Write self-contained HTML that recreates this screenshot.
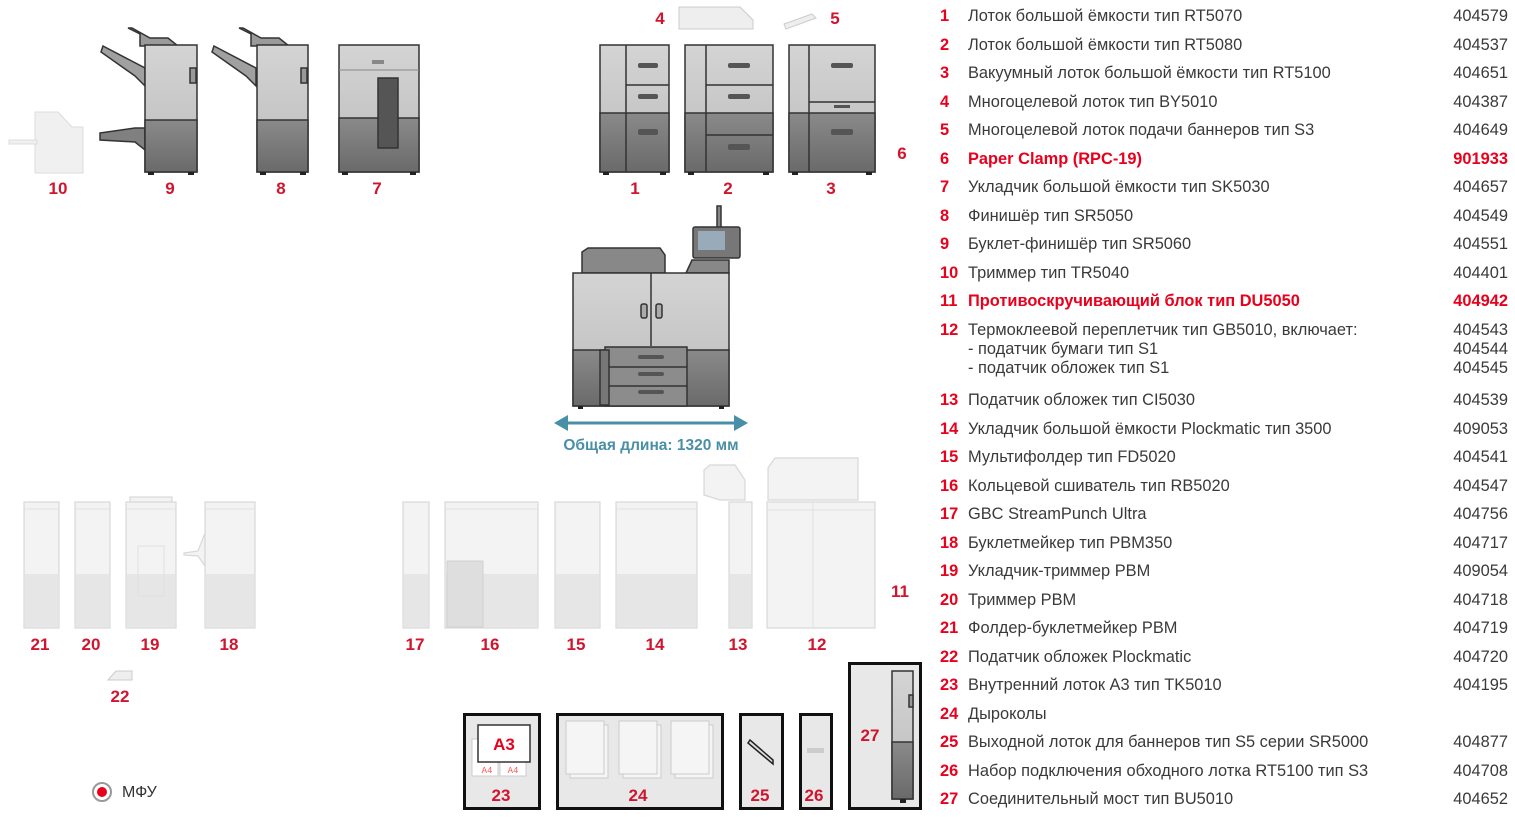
<!DOCTYPE html>
<html><head><meta charset="utf-8">
<style>
html,body{margin:0;padding:0;background:#fff;width:1515px;height:817px;overflow:hidden}
svg{position:absolute;left:0;top:0}
.lbl{font-family:"Liberation Sans",Arial,sans-serif;font-weight:bold;font-size:17px;fill:#d0152e;text-anchor:middle}
.t{font-family:"Liberation Sans",Arial,sans-serif;font-size:16.4px;fill:#3a3a3a}
.n{font-family:"Liberation Sans",Arial,sans-serif;font-size:16.4px;font-weight:bold;fill:#e8001c}
.c{font-family:"Liberation Sans",Arial,sans-serif;font-size:16.4px;fill:#3a3a3a;text-anchor:end}
.r{fill:#e8001c;font-weight:bold}
</style></head><body>
<svg width="1515" height="817" viewBox="0 0 1515 817">
<defs>
<linearGradient id="dk" x1="0" y1="0" x2="0" y2="1"><stop offset="0" stop-color="#8a8a8a"/><stop offset="1" stop-color="#6a6a6a"/></linearGradient>
<linearGradient id="lt" x1="0" y1="0" x2="0" y2="1"><stop offset="0" stop-color="#d4d4d4"/><stop offset="1" stop-color="#bcbcbc"/></linearGradient>
</defs>

<g fill="#f0f0f0" stroke="#dcdcdc">
<path d="M35 112 H58 L72 127 H83 V173 H35 Z"/>
<rect x="9" y="140" width="28" height="4"/>
</g>

<g stroke="#333" stroke-width="1.5">
<path d="M128 28 L140 34 L140 46 L178 46 L168 38 L150 38 L132 28 Z" fill="#9a9a9a"/>
<path d="M103 46 L145 68 L145 86 L135 76 L101 52 Z" fill="#a0a0a0"/>
<path d="M100 133 L135 128 L145 128 L145 150 L135 142 L100 140 Z" fill="#808080"/>
<rect x="145" y="45" width="52" height="127" fill="url(#lt)"/>
<rect x="145" y="120" width="52" height="52" fill="url(#dk)"/>
<rect x="190" y="68" width="6" height="15" fill="#999"/>
</g>
<rect x="148" y="172" width="6" height="3" fill="#222"/><rect x="188" y="172" width="6" height="3" fill="#222"/>

<g stroke="#333" stroke-width="1.5">
<path d="M239 28 L251 34 L251 46 L289 46 L279 38 L261 38 L243 28 Z" fill="#9a9a9a"/>
<path d="M214 46 L256 68 L256 86 L246 76 L212 52 Z" fill="#a0a0a0"/>
<rect x="257" y="45" width="51" height="127" fill="url(#lt)"/>
<rect x="257" y="120" width="51" height="52" fill="url(#dk)"/>
<rect x="301" y="68" width="6" height="15" fill="#999"/>
</g>
<rect x="260" y="172" width="6" height="3" fill="#222"/><rect x="300" y="172" width="6" height="3" fill="#222"/>

<g stroke="#333" stroke-width="1.5">
<rect x="339" y="45" width="80" height="127" fill="url(#lt)"/>
<rect x="339" y="118" width="80" height="54" fill="url(#dk)"/>
<rect x="378" y="78" width="20" height="70" fill="#555"/>
</g>
<line x1="339" y1="70" x2="419" y2="70" stroke="#888"/>
<rect x="372" y="60" width="12" height="4" fill="#888"/>
<rect x="342" y="172" width="6" height="3" fill="#222"/><rect x="410" y="172" width="6" height="3" fill="#222"/>

<path d="M679 7 H740 L753 20 V29 H679 Z" fill="#eee" stroke="#ccc"/>
<path d="M784 24 L812 14 L816 18 L786 29 Z" fill="#eee" stroke="#ccc"/>

<g stroke="#333" stroke-width="1.5">
<rect x="600" y="45" width="69" height="127" fill="url(#lt)"/>
<rect x="600" y="113" width="69" height="59" fill="url(#dk)"/>
<line x1="626" y1="45" x2="626" y2="172"/>
<line x1="626" y1="85" x2="669" y2="85"/>
</g>
<g fill="#555"><rect x="638" y="63" width="20" height="5" rx="2"/><rect x="638" y="94" width="20" height="5" rx="2"/><rect x="638" y="129" width="20" height="6" rx="2"/></g>
<rect x="603" y="172" width="6" height="3" fill="#222"/><rect x="660" y="172" width="6" height="3" fill="#222"/>
<g stroke="#333" stroke-width="1.5">
<rect x="685" y="45" width="88" height="127" fill="url(#lt)"/>
<rect x="685" y="113" width="88" height="59" fill="url(#dk)"/>
<line x1="706" y1="45" x2="706" y2="172"/>
<line x1="706" y1="85" x2="773" y2="85"/>
<line x1="706" y1="135" x2="773" y2="135"/>
</g>
<g fill="#555"><rect x="728" y="63" width="22" height="5" rx="2"/><rect x="728" y="94" width="22" height="5" rx="2"/><rect x="728" y="144" width="22" height="6" rx="2"/></g>
<rect x="688" y="172" width="6" height="3" fill="#222"/><rect x="763" y="172" width="6" height="3" fill="#222"/>
<g stroke="#333" stroke-width="1.5">
<rect x="789" y="45" width="86" height="127" fill="url(#lt)"/>
<rect x="789" y="113" width="86" height="59" fill="url(#dk)"/>
<line x1="809" y1="45" x2="809" y2="172"/>
<line x1="809" y1="102" x2="875" y2="102"/>
</g>
<g fill="#555"><rect x="831" y="63" width="22" height="5" rx="2"/><rect x="834" y="105" width="16" height="3"/><rect x="831" y="129" width="22" height="6" rx="2"/></g>
<rect x="792" y="172" width="6" height="3" fill="#222"/><rect x="866" y="172" width="6" height="3" fill="#222"/>

<g stroke="#333" stroke-width="1.5">
<rect x="717" y="206" width="4" height="22" fill="#888"/>
<rect x="693" y="227" width="47" height="31" rx="2" fill="#777"/>
<rect x="698" y="231" width="27" height="19" fill="#9ab" stroke="none"/>
<path d="M686 273 L692 260 H729 V273 Z" fill="#888"/>
<path d="M582 273 V252 L588 248 H660 L665 255 V273 Z" fill="#888"/>
<rect x="573" y="273" width="156" height="133" fill="url(#lt)"/>
<rect x="573" y="350" width="156" height="56" fill="url(#dk)"/>
<line x1="651" y1="273" x2="651" y2="346"/>
<rect x="605" y="347" width="82" height="59" fill="#8c8c8c"/>
<line x1="605" y1="367" x2="687" y2="367"/><line x1="605" y1="386" x2="687" y2="386"/>
<rect x="600" y="350" width="9" height="55" fill="#777"/>
<rect x="641" y="304" width="6" height="14" rx="2" fill="#aaa"/><rect x="656" y="304" width="6" height="14" rx="2" fill="#aaa"/>
</g>
<g fill="#555"><rect x="638" y="355" width="26" height="4" rx="2"/><rect x="638" y="372" width="26" height="4" rx="2"/><rect x="638" y="390" width="26" height="4" rx="2"/></g>
<rect x="578" y="406" width="5" height="3" fill="#222"/><rect x="719" y="406" width="5" height="3" fill="#222"/>
<line x1="565" y1="423" x2="737" y2="423" stroke="#4a8fa8" stroke-width="3"/>
<path d="M554 423 L568 415 V431 Z M748 423 L734 415 V431 Z" fill="#4a8fa8"/>
<text x="651" y="450" font-family="Liberation Sans,Arial,sans-serif" font-weight="bold" font-size="15.5" fill="#4a8fa8" text-anchor="middle">Общая длина: 1320 мм</text>

<g fill="#f3f3f3" stroke="#d8d8d8" stroke-width="1.2">
<rect x="24" y="502" width="35" height="126"/><rect x="75" y="502" width="35" height="126"/>
<rect x="130" y="497" width="42" height="6"/><rect x="126" y="502" width="50" height="126"/>
<path d="M184 553 L198 551 L205 533 V566 L198 556 L184 555 Z"/>
<rect x="205" y="502" width="50" height="126"/>
<rect x="403" y="502" width="26" height="126"/><rect x="445" y="502" width="93" height="126"/>
<rect x="555" y="502" width="45" height="126"/><rect x="616" y="502" width="81" height="126"/>
<path d="M704 470 L710 465 H735 L745 480 V500 H720 L704 495 Z"/>
<rect x="729" y="502" width="23" height="126"/>
<path d="M768 468 L775 458 H858 V500 H768 Z"/>
<rect x="767" y="502" width="108" height="126"/>
</g>
<g fill="#e6e6e6">
<rect x="25" y="574" width="33" height="53"/><rect x="76" y="574" width="33" height="53"/><rect x="127" y="574" width="48" height="53"/><rect x="206" y="574" width="48" height="53"/>
<rect x="404" y="574" width="24" height="53"/><rect x="446" y="574" width="91" height="53"/><rect x="556" y="574" width="43" height="53"/><rect x="617" y="574" width="79" height="53"/><rect x="730" y="574" width="21" height="53"/>
</g>
<rect x="447" y="561" width="36" height="66" fill="#dedede" stroke="#d0d0d0"/>
<g stroke="#e0e0e0" fill="none"><line x1="24" y1="509" x2="59" y2="509"/><line x1="75" y1="509" x2="110" y2="509"/><line x1="126" y1="509" x2="176" y2="509"/><line x1="205" y1="509" x2="255" y2="509"/><line x1="445" y1="509" x2="538" y2="509"/><line x1="616" y1="509" x2="697" y2="509"/><line x1="767" y1="510" x2="875" y2="510"/><line x1="813" y1="502" x2="813" y2="628"/><rect x="138" y="546" width="26" height="50"/></g>
<path d="M108 680 L116 671 H132 V680 Z" fill="#eee" stroke="#ccc"/>

<g fill="#e8e8e8" stroke="#111" stroke-width="3">
<rect x="464.5" y="714.5" width="75" height="94"/>
<rect x="557.5" y="714.5" width="165" height="94"/>
<rect x="740.5" y="714.5" width="42" height="94"/>
<rect x="800.5" y="714.5" width="31" height="94"/>
<rect x="849.5" y="663.5" width="71" height="145"/>
</g>
<rect x="472" y="739" width="26" height="37" fill="#fff" stroke="#ccc"/><rect x="500" y="739" width="26" height="37" fill="#fff" stroke="#ccc"/>
<text x="487" y="773" font-family="Liberation Mono,monospace" font-size="9" fill="#f55" text-anchor="middle">A4</text>
<text x="513" y="773" font-family="Liberation Mono,monospace" font-size="9" fill="#f55" text-anchor="middle">A4</text>
<rect x="478" y="725" width="52" height="37" fill="#fff" stroke="#333" stroke-width="1.5"/>
<text x="504" y="750" font-family="Liberation Sans,Arial,sans-serif" font-weight="bold" font-size="17" fill="#e8001c" text-anchor="middle">A3</text>
<g fill="#f5f5f5" stroke="#ccc">
<rect x="570" y="725" width="38" height="53"/><rect x="566" y="721" width="38" height="53"/>
<rect x="623" y="725" width="38" height="53"/><rect x="619" y="721" width="38" height="53"/>
<rect x="675" y="725" width="38" height="53"/><rect x="671" y="721" width="38" height="53"/>
</g>
<path d="M748 743 L750 740 L773 760 L773 764 Z" fill="#ddd" stroke="#222" stroke-width="1.5"/>
<rect x="807" y="748" width="17" height="5" fill="#ccc"/>
<g stroke="#333" stroke-width="1.5"><rect x="892" y="671" width="21" height="128" fill="url(#lt)"/><rect x="892" y="742" width="21" height="57" fill="url(#dk)"/><rect x="909" y="695" width="4" height="12" fill="#999"/></g>
<rect x="900" y="799" width="6" height="4" fill="#222"/>

<circle cx="102" cy="792" r="9" fill="#fff" stroke="#999" stroke-width="2"/>
<circle cx="102" cy="792" r="5" fill="#e8001c"/>
<text x="122" y="797" font-family="Liberation Sans,Arial,sans-serif" font-size="16" fill="#333">МФУ</text>

<text class="lbl" x="58" y="194">10</text><text class="lbl" x="170" y="194">9</text><text class="lbl" x="281" y="194">8</text><text class="lbl" x="377" y="194">7</text>
<text class="lbl" x="635" y="194">1</text><text class="lbl" x="728" y="194">2</text><text class="lbl" x="831" y="194">3</text>
<text class="lbl" x="660" y="24">4</text><text class="lbl" x="835" y="24">5</text><text class="lbl" x="902" y="159">6</text>
<text class="lbl" x="900" y="597">11</text>
<text class="lbl" x="40" y="650">21</text><text class="lbl" x="91" y="650">20</text><text class="lbl" x="150" y="650">19</text><text class="lbl" x="229" y="650">18</text>
<text class="lbl" x="415" y="650">17</text><text class="lbl" x="490" y="650">16</text><text class="lbl" x="576" y="650">15</text><text class="lbl" x="655" y="650">14</text><text class="lbl" x="738" y="650">13</text><text class="lbl" x="817" y="650">12</text>
<text class="lbl" x="120" y="702">22</text>
<text class="lbl" x="501" y="801">23</text><text class="lbl" x="638" y="801">24</text><text class="lbl" x="760" y="801">25</text><text class="lbl" x="814" y="801">26</text><text class="lbl" x="870" y="741">27</text>

<g>
<text class="n" x="940" y="21">1</text><text class="t" x="968" y="21">Лоток большой ёмкости тип RT5070</text><text class="c" x="1508" y="21">404579</text>
<text class="n" x="940" y="50">2</text><text class="t" x="968" y="50">Лоток большой ёмкости тип RT5080</text><text class="c" x="1508" y="50">404537</text>
<text class="n" x="940" y="78">3</text><text class="t" x="968" y="78">Вакуумный лоток большой ёмкости тип RT5100</text><text class="c" x="1508" y="78">404651</text>
<text class="n" x="940" y="107">4</text><text class="t" x="968" y="107">Многоцелевой лоток тип BY5010</text><text class="c" x="1508" y="107">404387</text>
<text class="n" x="940" y="135">5</text><text class="t" x="968" y="135">Многоцелевой лоток подачи баннеров тип S3</text><text class="c" x="1508" y="135">404649</text>
<text class="n" x="940" y="164">6</text><text class="t r" x="968" y="164">Paper Clamp (RPC-19)</text><text class="c r" x="1508" y="164">901933</text>
<text class="n" x="940" y="192">7</text><text class="t" x="968" y="192">Укладчик большой ёмкости тип SK5030</text><text class="c" x="1508" y="192">404657</text>
<text class="n" x="940" y="221">8</text><text class="t" x="968" y="221">Финишёр тип SR5050</text><text class="c" x="1508" y="221">404549</text>
<text class="n" x="940" y="249">9</text><text class="t" x="968" y="249">Буклет-финишёр тип SR5060</text><text class="c" x="1508" y="249">404551</text>
<text class="n" x="940" y="278">10</text><text class="t" x="968" y="278">Триммер тип TR5040</text><text class="c" x="1508" y="278">404401</text>
<text class="n" x="940" y="306">11</text><text class="t r" x="968" y="306">Противоскручивающий блок тип DU5050</text><text class="c r" x="1508" y="306">404942</text>
<text class="n" x="940" y="335">12</text><text class="t" x="968" y="335">Термоклеевой переплетчик тип GB5010, включает:</text><text class="c" x="1508" y="335">404543</text>
<text class="t" x="968" y="354">- податчик бумаги тип S1</text><text class="c" x="1508" y="354">404544</text>
<text class="t" x="968" y="373">- податчик обложек тип S1</text><text class="c" x="1508" y="373">404545</text>
<text class="n" x="940" y="405">13</text><text class="t" x="968" y="405">Податчик обложек тип CI5030</text><text class="c" x="1508" y="405">404539</text>
<text class="n" x="940" y="434">14</text><text class="t" x="968" y="434">Укладчик большой ёмкости Plockmatic тип 3500</text><text class="c" x="1508" y="434">409053</text>
<text class="n" x="940" y="462">15</text><text class="t" x="968" y="462">Мультифолдер тип FD5020</text><text class="c" x="1508" y="462">404541</text>
<text class="n" x="940" y="491">16</text><text class="t" x="968" y="491">Кольцевой сшиватель тип RB5020</text><text class="c" x="1508" y="491">404547</text>
<text class="n" x="940" y="519">17</text><text class="t" x="968" y="519">GBC StreamPunch Ultra</text><text class="c" x="1508" y="519">404756</text>
<text class="n" x="940" y="548">18</text><text class="t" x="968" y="548">Буклетмейкер тип PBM350</text><text class="c" x="1508" y="548">404717</text>
<text class="n" x="940" y="576">19</text><text class="t" x="968" y="576">Укладчик-триммер PBM</text><text class="c" x="1508" y="576">409054</text>
<text class="n" x="940" y="605">20</text><text class="t" x="968" y="605">Триммер PBM</text><text class="c" x="1508" y="605">404718</text>
<text class="n" x="940" y="633">21</text><text class="t" x="968" y="633">Фолдер-буклетмейкер PBM</text><text class="c" x="1508" y="633">404719</text>
<text class="n" x="940" y="662">22</text><text class="t" x="968" y="662">Податчик обложек Plockmatic</text><text class="c" x="1508" y="662">404720</text>
<text class="n" x="940" y="690">23</text><text class="t" x="968" y="690">Внутренний лоток A3 тип TK5010</text><text class="c" x="1508" y="690">404195</text>
<text class="n" x="940" y="719">24</text><text class="t" x="968" y="719">Дыроколы</text>
<text class="n" x="940" y="747">25</text><text class="t" x="968" y="747">Выходной лоток для баннеров тип S5 серии SR5000</text><text class="c" x="1508" y="747">404877</text>
<text class="n" x="940" y="776">26</text><text class="t" x="968" y="776">Набор подключения обходного лотка RT5100 тип S3</text><text class="c" x="1508" y="776">404708</text>
<text class="n" x="940" y="804">27</text><text class="t" x="968" y="804">Соединительный мост тип BU5010</text><text class="c" x="1508" y="804">404652</text>
</g>
</svg>
</body></html>
